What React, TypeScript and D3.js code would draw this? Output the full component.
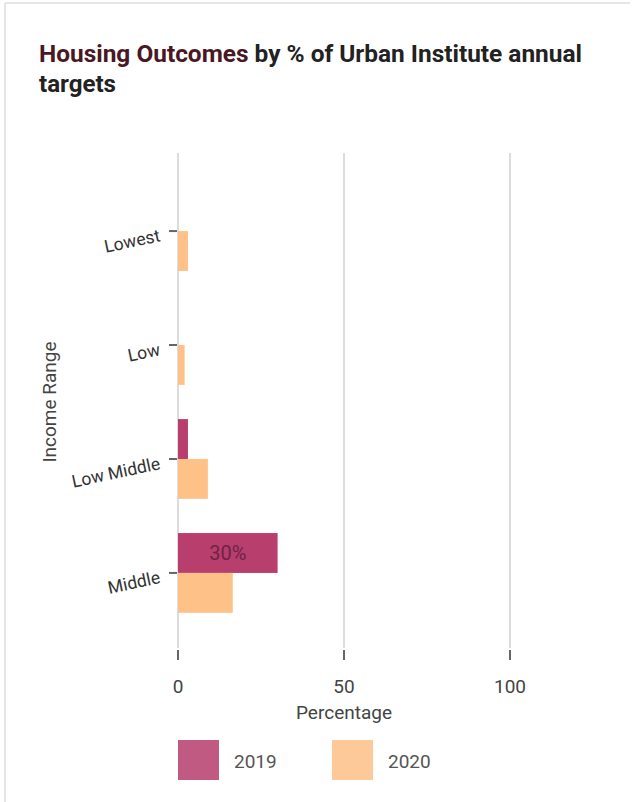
import * as d3 from 'd3';

const categories = ['Lowest', 'Low', 'Low Middle', 'Middle'];
const seriesNames = ['2019', '2020'];
const values2019 = [0, 0, 3, 30];
const values2020 = [3, 2, 9, 16.5];
const xTicks = [0, 50, 100];

const colors: Record<string, string> = { '2019': '#b83e6d', '2020': '#fec288' };
const legendColors: Record<string, string> = { '2019': '#c05a82', '2020': '#fec998' };

const width = 638;
const height = 802;
const marginLeft = 178;
const plotRight = 510;
const plotTop = 157;
const plotBottom = 647;
const font = 'Roboto, "Open Sans", sans-serif';

const App = () => {
  const x = d3.scaleLinear().domain([0, 100]).range([marginLeft, plotRight]);
  const y = d3.scaleBand<string>().domain(categories).range([plotTop, plotBottom]).padding(0.3);
  const sub = d3.scaleBand<string>().domain(seriesNames).range([0, y.bandwidth()]);

  const rows = categories.map((c, i) => ({ cat: c, '2019': values2019[i], '2020': values2020[i] }));

  return (
    <div style={{ position: 'absolute', left: 0, top: 0 }}>
      <svg width={width} height={height} style={{ display: 'block', fontFamily: font }}>
        <rect x={0} y={0} width={width} height={height} fill="#fff" />
        <line x1={5} x2={630} y1={3} y2={3} stroke="#e6e6e6" strokeWidth={2} />
        <line x1={5} x2={5} y1={3} y2={height} stroke="#e6e6e6" strokeWidth={2} />

        <text x={39} y={62} fontSize={24} fontWeight="bold" fill="#222"
          textLength={543} lengthAdjust="spacingAndGlyphs">
          <tspan fill="#4a1824">Housing Outcomes</tspan> by % of Urban Institute annual
        </text>
        <text x={39} y={92} fontSize={24} fontWeight="bold" fill="#222"
          textLength={77} lengthAdjust="spacingAndGlyphs">targets</text>

        {/* grid */}
        {xTicks.map(t => (
          <line key={t} x1={x(t)} x2={x(t)} y1={153} y2={648} stroke="#dcdcdc" strokeWidth={2} />
        ))}

        {/* bars */}
        {rows.map(r => (
          <g key={r.cat} transform={`translate(0,${y(r.cat)})`}>
            {seriesNames.map(s => {
              const v = (r as any)[s] as number;
              if (!v) return null;
              return (
                <rect key={s} x={x(0)} y={sub(s)} width={x(v) - x(0)} height={sub.bandwidth()}
                  fill={colors[s]} />
              );
            })}
            {r['2019'] >= 20 && (
              <text x={(x(0) + x(r['2019'])) / 2} y={(sub('2019') ?? 0) + sub.bandwidth() / 2 + 7}
                textAnchor="middle" fontSize={20} fill="#6e2346">
                {`${r['2019']}%`}
              </text>
            )}
          </g>
        ))}

        {/* y axis ticks */}
        {categories.map(c => {
          const cy = (y(c) ?? 0) + y.bandwidth() / 2;
          return (
            <g key={c}>
              <line x1={169} x2={177} y1={cy} y2={cy} stroke="#666" strokeWidth={2} />
              <text transform={`translate(161,${cy + 10}) rotate(-12)`} textAnchor="end"
                fontSize={17.5} fill="#333">{c}</text>
            </g>
          );
        })}

        {/* x axis ticks */}
        {xTicks.map(t => (
          <g key={t}>
            <line x1={x(t)} x2={x(t)} y1={650} y2={660} stroke="#666" strokeWidth={2} />
            <text x={x(t)} y={693} textAnchor="middle" fontSize={19} fill="#444">{t}</text>
          </g>
        ))}

        <text x={x(50)} y={719} textAnchor="middle" fontSize={19} fill="#444">Percentage</text>
        <text transform={`translate(56,402) rotate(-90)`} textAnchor="middle" fontSize={19}
          fill="#444">Income Range</text>

        {/* legend */}
        {seriesNames.map((s, i) => (
          <g key={s} transform={`translate(${178 + i * 154},740)`}>
            <rect x={0} y={0} width={41} height={40} fill={legendColors[s]} />
            <text x={56} y={28} fontSize={19} fill="#555">{s}</text>
          </g>
        ))}
      </svg>
    </div>
  );
};

export default App;
